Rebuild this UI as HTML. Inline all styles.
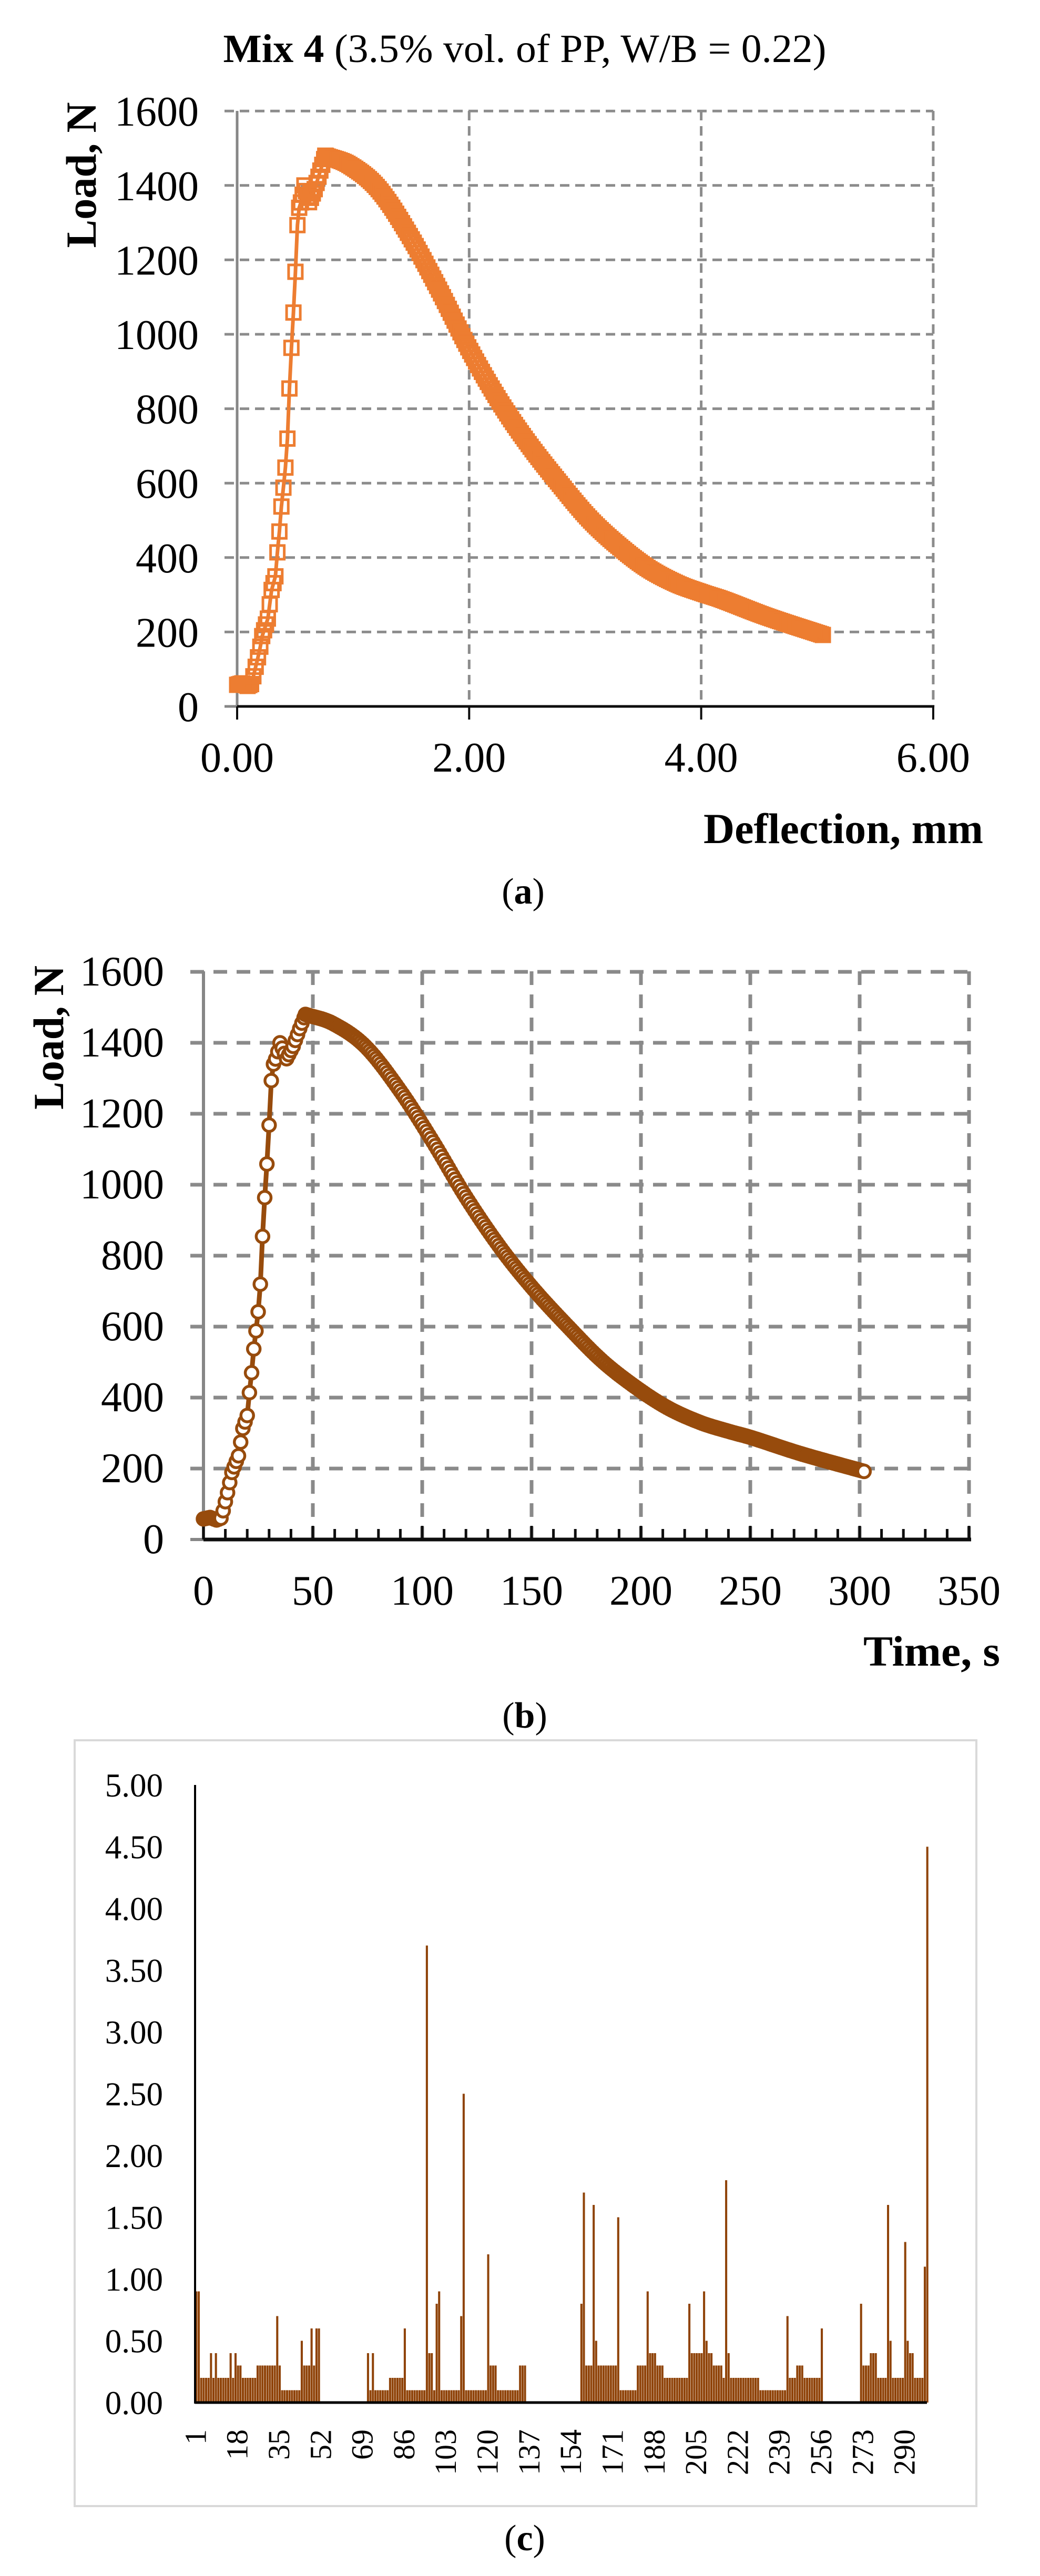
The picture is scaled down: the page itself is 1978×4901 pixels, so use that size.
<!DOCTYPE html>
<html><head><meta charset="utf-8">
<style>
html,body{margin:0;padding:0;background:#fff;}
svg{display:block;}
text{font-family:"Liberation Serif","DejaVu Serif",serif;fill:#000;}
</style></head>
<body>
<svg id="s" width="1978" height="4901" viewBox="0 0 1978 4901" xmlns="http://www.w3.org/2000/svg">
<rect width="1978" height="4901" fill="#fff"/>
<text x="998" y="118" font-size="76" text-anchor="middle" textLength="1147" lengthAdjust="spacingAndGlyphs"><tspan font-weight="bold">Mix 4</tspan> (3.5% vol. of PP, W/B = 0.22)</text>
<g id="ga"></g>
<text transform="translate(182,333) rotate(-90)" font-size="82" font-weight="bold" text-anchor="middle" textLength="277" lengthAdjust="spacingAndGlyphs">Load, N</text>
<text x="1338" y="1604" font-size="82" font-weight="bold" textLength="532" lengthAdjust="spacingAndGlyphs">Deflection, mm</text>
<text x="995" y="1719" font-size="70" text-anchor="middle">(<tspan font-weight="bold">a</tspan>)</text>
<g id="gb"></g>
<text transform="translate(120,1974) rotate(-90)" font-size="82" font-weight="bold" text-anchor="middle" textLength="274" lengthAdjust="spacingAndGlyphs">Load, N</text>
<text x="1642" y="3169" font-size="82" font-weight="bold" textLength="260" lengthAdjust="spacingAndGlyphs">Time, s</text>
<text x="998" y="3287" font-size="70" text-anchor="middle">(<tspan font-weight="bold">b</tspan>)</text>
<rect x="142" y="3311" width="1715" height="1457" fill="none" stroke="#d9d9d9" stroke-width="4"/>
<g id="gc"></g>
<text x="998" y="4852" font-size="70" text-anchor="middle">(<tspan font-weight="bold">c</tspan>)</text>
</svg>
<script>
var NS="http://www.w3.org/2000/svg";
function el(p,tag,attrs,txt){var e=document.createElementNS(NS,tag);for(var k in attrs)e.setAttribute(k,attrs[k]);if(txt!==undefined)e.textContent=txt;p.appendChild(e);return e;}
function interp(keys,t){if(t<=keys[0][0])return keys[0][1];for(var i=1;i<keys.length;i++){if(t<=keys[i][0]){var a=keys[i-1],b=keys[i];return a[1]+(b[1]-a[1])*(t-a[0])/(b[0]-a[0]);}}return keys[keys.length-1][1];}
function cr(keys,t){ // catmull-rom
 if(t<=keys[0][0])return keys[0][1];
 for(var i=1;i<keys.length;i++){if(t<=keys[i][0]){
  var p1=keys[i-1],p2=keys[i],p0=keys[Math.max(0,i-2)],p3=keys[Math.min(keys.length-1,i+1)];
  var h=p2[0]-p1[0],u=(t-p1[0])/h;
  var m1=(p2[1]-p0[1])/(p2[0]-p0[0])*h, m2=(p3[1]-p1[1])/(p3[0]-p1[0])*h;
  var u2=u*u,u3=u2*u;
  return (2*u3-3*u2+1)*p1[1]+(u3-2*u2+u)*m1+(-2*u3+3*u2)*p2[1]+(u3-u2)*m2;}}
 return keys[keys.length-1][1];}
var LK=[[0,58],[3,62],[6,55],[8,60],[9,81],[11,132],[13,189],[16,236],[18,313],[20.3,355],[21,414],[22,470],[22.8,527],[24.3,603],[25.8,686],[26.4,787],[27.3,888],[28.3,996],[29.5,1103],[30.4,1220],[31.3,1330],[33.4,1360],[35,1400],[38,1355],[41,1390],[44,1440],[46.6,1480]];
var PK=[[46.6,1480],[59,1455],[74,1390],[90,1264],[105,1120],[120,965],[136,820],[151,705],[167,598],[182,505],[197,432],[212,372],[227,330],[240,305],[250,288],[273,242],[302,192]];
function L(t){return t<=46.6?interp(LK,t):cr(PK,t);}
var DK=[[0,0],[8,0.12],[12,0.2],[20,0.33],[31,0.52],[35,0.58],[38,0.62],[46.6,0.76],[302,5.05]];
var ts=[];for(var t=0;t<=302;t++)ts.push(t);ts.push(46.6);ts.sort(function(a,b){return a-b;});
var ga=document.getElementById('ga');
var ax0=451,ay0=1344,asx=220.6,asy=0.708;
for(var i=0;i<=8;i++){var y=ay0-i*200*asy;
 if(i>0)el(ga,'line',{x1:427,y1:y,x2:1775,y2:y,stroke:'#8c8c8c','stroke-width':5,'stroke-dasharray':'18 11'});
 el(ga,'text',{x:378,y:y+28,'font-size':80,'text-anchor':'end'},String(i*200));}
el(ga,'line',{x1:427,y1:ay0,x2:451,y2:ay0,stroke:'#868686','stroke-width':5});
for(var j=1;j<=3;j++){var x=ax0+j*441.3;el(ga,'line',{x1:x,y1:211,x2:x,y2:ay0,stroke:'#8c8c8c','stroke-width':5,'stroke-dasharray':'18 11'});}
el(ga,'line',{x1:ax0,y1:211,x2:ax0,y2:ay0,stroke:'#868686','stroke-width':5});
el(ga,'line',{x1:ax0,y1:ay0,x2:1777,y2:ay0,stroke:'#0d0d0d','stroke-width':5});
for(var j=0;j<=3;j++){var x=ax0+j*441.3;el(ga,'line',{x1:x,y1:ay0,x2:x,y2:1369,stroke:'#0d0d0d','stroke-width':4});
 el(ga,'text',{x:x,y:1468,'font-size':80,'text-anchor':'middle'},(j*2).toFixed(2));}
var pa=ts.map(function(t){return [ax0+interp(DK,t)*asx, ay0-L(t)*asy];});
el(ga,'polyline',{points:pa.map(function(p){return p[0].toFixed(1)+','+p[1].toFixed(1);}).join(' '),fill:'none',stroke:'#ed7d31','stroke-width':7,'stroke-linejoin':'round'});
pa.forEach(function(p){el(ga,'rect',{x:p[0]-13,y:p[1]-13,width:26,height:26,fill:'none',stroke:'#ed7d31','stroke-width':5});});
var gb=document.getElementById('gb');
var bx0=387,by0=2929,bsx=4.16,bsy=0.675;
for(var i=0;i<=8;i++){var y=by0-i*200*bsy;
 if(i>0)el(gb,'line',{x1:362,y1:y,x2:1845,y2:y,stroke:'#8a8a8a','stroke-width':7,'stroke-dasharray':'26 18'});
 el(gb,'text',{x:312,y:y+26,'font-size':80,'text-anchor':'end'},String(i*200));}
el(gb,'line',{x1:362,y1:by0,x2:387,y2:by0,stroke:'#868686','stroke-width':6});
for(var j=1;j<=7;j++){var x=bx0+j*50*bsx;el(gb,'line',{x1:x,y1:1848,x2:x,y2:by0,stroke:'#8a8a8a','stroke-width':7,'stroke-dasharray':'26 18'});}
el(gb,'line',{x1:bx0,y1:1848,x2:bx0,y2:by0,stroke:'#868686','stroke-width':6});
el(gb,'line',{x1:bx0,y1:by0,x2:1847,y2:by0,stroke:'#0d0d0d','stroke-width':7});
for(var k=0;k<=35;k++){var x=bx0+k*10*bsx;el(gb,'line',{x1:x,y1:(k%5==0?2903:2909),x2:x,y2:by0,stroke:'#0d0d0d','stroke-width':5});}
for(var j=0;j<=7;j++){el(gb,'text',{x:bx0+j*50*bsx,y:3053,'font-size':80,'text-anchor':'middle'},String(j*50));}
var pb=ts.map(function(t){return [bx0+t*bsx, by0-L(t)*bsy];});
el(gb,'polyline',{points:pb.map(function(p){return p[0].toFixed(1)+','+p[1].toFixed(1);}).join(' '),fill:'none',stroke:'#974b0c','stroke-width':9,'stroke-linejoin':'round'});
pb.forEach(function(p){el(gb,'circle',{cx:p[0],cy:p[1],r:12,fill:'#fff',stroke:'#974b0c','stroke-width':5.5});});
var gc=document.getElementById('gc');
var cx0=371,cy0=4571,cs=235,bw=1395/299;
for(var i=0;i<=10;i++){var v=i*0.5;el(gc,'text',{x:310,y:cy0-v*cs+22,'font-size':63,'text-anchor':'end'},v.toFixed(2));}
var vals=new Array(300).fill(0);
function setr(a,b,v){for(var i=a;i<=b;i++)vals[i]=v;}
var r1=[0.9,0.9,0.2,0.2,0.2,0.2,0.4,0.2,0.4,0.2,0.2,0.2,0.2,0.2,0.4,0.2,0.4,0.3,0.3,0.2,0.2,0.2,0.2,0.2,0.2,0.3,0.3,0.3,0.3,0.3,0.3,0.3,0.3,0.7,0.3,0.1,0.1,0.1,0.1,0.1,0.1,0.1,0.1,0.5,0.3,0.3,0.3,0.6,0.3,0.6,0.6];
for(var i=0;i<r1.length;i++)vals[i+1]=r1[i];
setr(71,134,0.1);vals[71]=0.4;vals[73]=0.4;setr(80,85,0.2);vals[86]=0.6;vals[95]=3.7;setr(96,97,0.4);vals[99]=0.8;vals[100]=0.9;vals[109]=0.7;vals[110]=2.5;vals[120]=1.2;setr(121,123,0.3);setr(133,135,0.3);
setr(158,256,0.2);vals[158]=0.8;vals[159]=1.7;setr(160,162,0.3);vals[163]=1.6;vals[164]=0.5;setr(165,172,0.3);vals[173]=1.5;setr(174,180,0.1);setr(181,184,0.3);vals[185]=0.9;setr(186,188,0.4);setr(189,191,0.3);
vals[202]=0.8;setr(203,207,0.4);vals[208]=0.9;vals[209]=0.5;setr(210,211,0.4);setr(212,215,0.3);vals[217]=1.8;vals[218]=0.4;setr(231,241,0.1);vals[242]=0.7;setr(246,248,0.3);vals[256]=0.6;
setr(272,299,0.2);vals[272]=0.8;setr(273,275,0.3);setr(276,278,0.4);vals[283]=1.6;vals[284]=0.5;vals[290]=1.3;vals[291]=0.5;setr(292,293,0.4);vals[298]=1.1;vals[299]=4.5;
for(var i=1;i<=299;i++){var v=vals[i];if(v>0){var x=cx0+(i-1)*bw+0.3;el(gc,'rect',{x:x,y:cy0-v*cs,width:bw-0.6,height:v*cs,fill:'#8f4309'});}}
el(gc,'line',{x1:cx0,y1:3396,x2:cx0,y2:cy0+2,stroke:'#000','stroke-width':4});
el(gc,'line',{x1:cx0,y1:cy0,x2:1763,y2:cy0,stroke:'#000','stroke-width':5});
for(var k=0;k<18;k++){var n=1+17*k;var xc=cx0+(n-0.5)*bw+18;
 el(gc,'text',{transform:'translate('+xc.toFixed(1)+',4622) rotate(-90)','font-size':58,'text-anchor':'end'},String(n));}
</script>
</body></html>
